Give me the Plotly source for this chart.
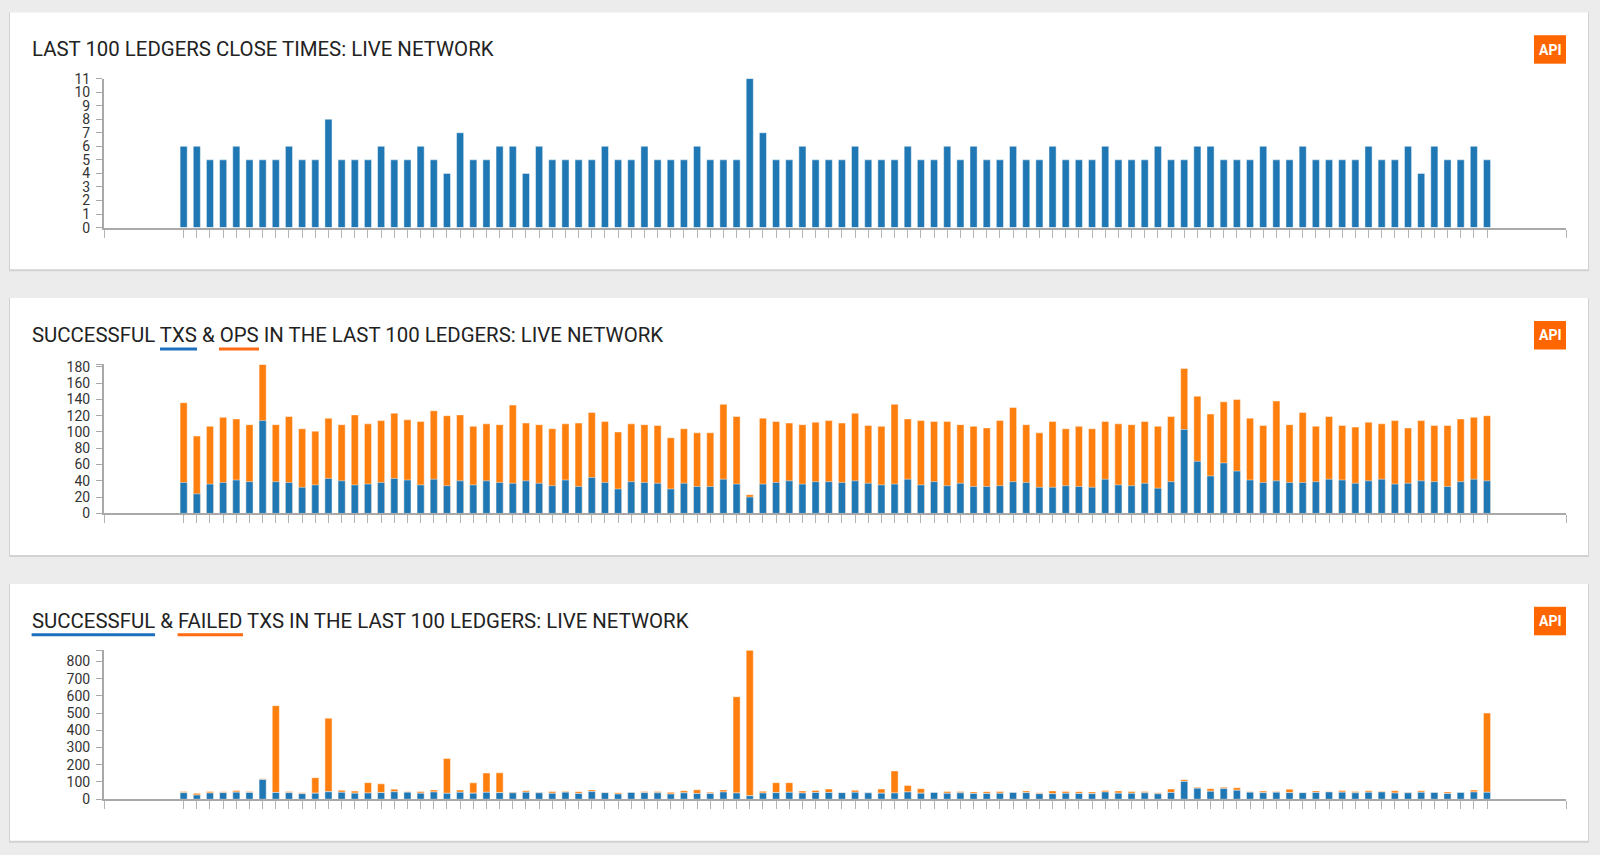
import plotly.graph_objects as go

W, H = 1600, 855

# ---------------- data ----------------
ledgers = list(range(100))

close_times = [
    6, 6, 5, 5, 6, 5, 5, 5, 6, 5,
    5, 8, 5, 5, 5, 6, 5, 5, 6, 5,
    4, 7, 5, 5, 6, 6, 4, 6, 5, 5,
    5, 5, 6, 5, 5, 6, 5, 5, 5, 6,
    5, 5, 5, 11, 7, 5, 5, 6, 5, 5,
    5, 6, 5, 5, 5, 6, 5, 5, 6, 5,
    6, 5, 5, 6, 5, 5, 6, 5, 5, 5,
    6, 5, 5, 5, 6, 5, 5, 6, 6, 5,
    5, 5, 6, 5, 5, 6, 5, 5, 5, 5,
    6, 5, 5, 6, 4, 6, 5, 5, 6, 5,
]

txs_success = [
    38, 24, 36, 38, 41, 39, 114, 39, 38, 32,
    35, 43, 40, 35, 36, 38, 43, 41, 35, 42,
    34, 40, 35, 40, 38, 37, 40, 37, 34, 41,
    33, 44, 38, 30, 39, 38, 37, 30, 37, 33,
    33, 42, 36, 20, 36, 38, 40, 36, 39, 39,
    38, 40, 37, 35, 36, 42, 35, 39, 34, 37,
    33, 33, 34, 39, 38, 32, 32, 34, 33, 32,
    42, 35, 34, 37, 31, 39, 103, 64, 46, 62,
    52, 41, 38, 40, 38, 38, 39, 42, 41, 37,
    40, 42, 36, 37, 40, 39, 33, 39, 42, 40,
]

ops = [
    136, 95, 107, 118, 116, 109, 183, 109, 119, 104,
    101, 117, 109, 121, 110, 114, 123, 115, 113, 126,
    120, 121, 107, 110, 109, 133, 111, 109, 104, 110,
    111, 124, 113, 100, 110, 109, 108, 93, 104, 99,
    99, 134, 119, 23, 117, 113, 111, 109, 112, 114,
    111, 123, 108, 107, 134, 116, 114, 113, 113, 109,
    107, 105, 114, 130, 109, 99, 113, 104, 107, 104,
    113, 110, 109, 113, 107, 119, 178, 144, 122, 137,
    140, 117, 108, 138, 109, 124, 107, 119, 108, 106,
    112, 110, 114, 105, 114, 108, 108, 116, 118, 120,
]

txs_failed = [
    6, 10, 8, 5, 9, 6, 5, 504, 6, 5,
    90, 427, 12, 12, 60, 51, 15, 4, 10, 12,
    202, 13, 60, 112, 115, 5, 9, 3, 10, 5,
    10, 10, 2, 8, 2, 7, 8, 10, 12, 22,
    8, 12, 559, 845, 10, 58, 56, 12, 12, 20,
    1, 12, 2, 24, 128, 38, 26, 1, 10, 8,
    9, 10, 10, 2, 10, 5, 16, 10, 10, 10,
    9, 13, 10, 7, 7, 20, 10, 6, 15, 8,
    15, 4, 9, 4, 20, 1, 9, 3, 9, 7,
    9, 4, 13, 3, 9, 2, 9, 2, 11, 460,
]

titles = [
    "LAST 100 LEDGERS CLOSE TIMES: LIVE NETWORK",
    "SUCCESSFUL TXS &amp; OPS IN THE LAST 100 LEDGERS: LIVE NETWORK",
    "SUCCESSFUL &amp; FAILED TXS IN THE LAST 100 LEDGERS: LIVE NETWORK",
]

# ---------------- style ----------------
BLUE = "#1f77b4"
ORANGE = "#ff7f0e"
BG = "#ececec"
AXIS = "#a9a9a9"
FONT = "Roboto"

CARD_TOPS = [12.2, 298.0, 583.8]
CARD_H = 257
CARD_X0, CARD_X1 = 10, 1588
PLOT_OFF = 66.4
PLOT_H = 149
X0, X1 = 104, 1566
XR = [-6.05, 105.0]


def fx(p):
    return p / W


def fy(p):
    return 1 - p / H


fig = go.Figure()

bar_line = dict(width=1, color="rgba(255,255,255,0.45)")

# top chart
fig.add_trace(go.Bar(x=ledgers, y=close_times, marker=dict(color=BLUE, line=bar_line),
                     xaxis="x", yaxis="y"))
# middle chart (ops behind, txs in front)
fig.add_trace(go.Bar(x=ledgers, y=ops, marker=dict(color=ORANGE, line=bar_line),
                     xaxis="x2", yaxis="y2"))
fig.add_trace(go.Bar(x=ledgers, y=txs_success, marker=dict(color=BLUE, line=bar_line),
                     xaxis="x2", yaxis="y2"))
# bottom chart (failed stacked on successful)
fig.add_trace(go.Bar(x=ledgers, y=txs_failed, base=txs_success,
                     marker=dict(color=ORANGE, line=bar_line), xaxis="x3", yaxis="y3"))
fig.add_trace(go.Bar(x=ledgers, y=txs_success, marker=dict(color=BLUE, line=bar_line),
                     xaxis="x3", yaxis="y3"))

ymaxes = [
    max(close_times),
    max(ops),
    max(s + f for s, f in zip(txs_success, txs_failed)),
]
ysteps = [1, 20, 100]

layout = dict(
    template="none",
    width=W, height=H,
    margin=dict(l=0, r=0, t=0, b=0, pad=0, autoexpand=False),
    paper_bgcolor=BG,
    plot_bgcolor="rgba(0,0,0,0)",
    barmode="overlay",
    bargap=0.46,
    showlegend=False,
    font=dict(family=FONT, color="#333"),
)

shapes = []
annotations = []

for i, top in enumerate(CARD_TOPS):
    sfx = "" if i == 0 else str(i + 1)
    ymax = ymaxes[i]
    step = ysteps[i]
    tv = list(range(0, int(ymax) + 1, step))
    tt = [str(v) for v in tv]
    if tv[-1] != ymax:
        tv.append(ymax)
        tt.append("")
    plot_top = top + PLOT_OFF
    plot_bot = plot_top + PLOT_H
    layout["xaxis" + sfx] = dict(
        domain=[fx(X0), fx(X1)], range=XR, anchor="y" + sfx, automargin=False,
        tickvals=[XR[0]] + ledgers + [XR[1]], showticklabels=False,
        ticks="outside", ticklen=8, tickwidth=1, tickcolor="#b4b4b4",
        showline=True, linecolor=AXIS, linewidth=2,
        showgrid=False, zeroline=False, fixedrange=True,
    )
    layout["yaxis" + sfx] = dict(
        domain=[fy(plot_bot), fy(plot_top)], range=[0, ymax], anchor="x" + sfx,
        automargin=False,
        tickvals=tv, ticktext=tt, ticks="outside", ticklen=6, tickwidth=1,
        ticklabelstandoff=3,
        tickcolor=AXIS, showline=True, linecolor=AXIS, linewidth=2,
        tickfont=dict(family=FONT, size=14, color="#333"),
        showgrid=False, zeroline=False, fixedrange=True,
    )
    # card shadow + card
    shapes.append(dict(type="rect", xref="paper", yref="paper", layer="below",
                       x0=fx(CARD_X0 - 1), x1=fx(CARD_X1 + 1),
                       y0=fy(top + CARD_H + 2), y1=fy(top),
                       fillcolor="#d2d2d2", line=dict(width=0)))
    shapes.append(dict(type="rect", xref="paper", yref="paper", layer="below",
                       x0=fx(CARD_X0), x1=fx(CARD_X1),
                       y0=fy(top + CARD_H), y1=fy(top),
                       fillcolor="white", line=dict(width=0)))
    # API badge
    shapes.append(dict(type="rect", xref="paper", yref="paper",
                       x0=fx(1534), x1=fx(1566), y0=fy(top + 51.5), y1=fy(top + 23),
                       fillcolor="#ff6600", line=dict(width=0)))
    annotations.append(dict(text="<b>API</b>", xref="paper", yref="paper",
                            x=fx(1550), y=fy(top + 37.5), xanchor="center", yanchor="middle",
                            showarrow=False, font=dict(family=FONT, size=14, color="white")))
    # title
    annotations.append(dict(text=titles[i], xref="paper", yref="paper",
                            x=fx(30), y=fy(top + 37), xanchor="left", yanchor="middle",
                            showarrow=False, font=dict(family=FONT, size=20.4, color="#222")))

# legend underlines in titles
UL_BLUE = "#1f6fbf"
UL_ORANGE = "#ff6a13"
underlines = [
    (1, 160, 197, UL_BLUE), (1, 219, 259, UL_ORANGE),
    (2, 31.6, 155, UL_BLUE), (2, 177.6, 243, UL_ORANGE),
]
for idx, a, b, c in underlines:
    yy = fy(CARD_TOPS[idx] + 51)
    shapes.append(dict(type="line", xref="paper", yref="paper",
                       x0=fx(a), x1=fx(b), y0=yy, y1=yy, line=dict(color=c, width=3)))

layout["shapes"] = shapes
layout["annotations"] = annotations
fig.update_layout(**layout)

fig.write_html("out.html")
